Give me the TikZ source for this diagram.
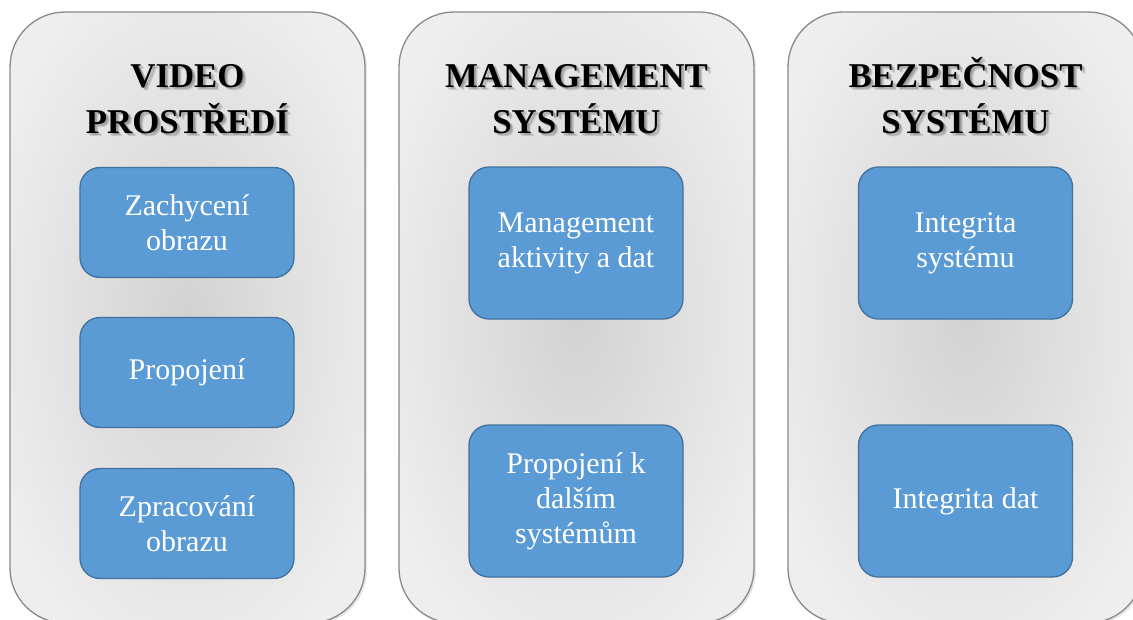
\documentclass[tikz,border=0pt]{standalone}
\usepackage{fontspec}
\setmainfont{Liberation Serif}
\definecolor{boxfill}{HTML}{5B9BD5}
\definecolor{boxline}{HTML}{41719C}
\definecolor{pin}{HTML}{D2D2D2}
\definecolor{pout}{HTML}{EEEEEE}
\definecolor{pline}{HTML}{8A8A8A}
\pgfdeclareradialshading{panelshade}{\pgfpoint{0bp}{0bp}}{color(0bp)=(pin); color(30bp)=(pout); color(50bp)=(pout)}
\tikzset{
  panel/.style={draw=pline, line width=1.3pt, rounded corners=55pt, shading=panelshade},
  pshadow/.style={fill=black, opacity=0.10, rounded corners=55pt},
  bluebox/.style={draw=boxline, line width=1.3pt, fill=boxfill, rounded corners=20pt,
    text=white, align=center, inner sep=0pt, minimum width=214pt,
    font=\fontsize{30}{35}\selectfont},
  title/.style={anchor=base, font=\bfseries\fontsize{34.8}{40}\selectfont, text=black},
  tshadow/.style={anchor=base, font=\bfseries\fontsize{34.8}{40}\selectfont, text=black, opacity=0.13},
}
\newcommand{\ttlline}[4]{%
  \node[tshadow] at (#2+1.5,#3+1.5) {#4};
  \node[tshadow] at (#2+2.5,#3+2.5) {#4};
  \node[tshadow] at (#2+3.5,#3+3) {#4};
  \node[title] (#1) at (#2,#3) {#4};}
\begin{document}
\begin{tikzpicture}[x=1pt,y=-1pt]
\useasboundingbox (0,0) rectangle (1133,619);
\fill[white] (0,0) rectangle (1133,619);
\clip (0,0) rectangle (1133,619);
% panels
\foreach \px in {10,399,788}{
  \fill[pshadow] (\px+2,14) rectangle (\px+357,625);
  \path[panel] (\px,12) rectangle (\px+355,623);
}
% titles
\ttlline{t1a}{187.5}{87}{VIDEO}
\ttlline{t1b}{187.5}{133}{PROSTŘEDÍ}
\ttlline{t2a}{576.5}{87}{MANAGEMENT}
\ttlline{t2b}{576.5}{133}{SYSTÉMU}
\ttlline{t3a}{965.5}{87}{BEZPEČNOST}
\ttlline{t3b}{965.5}{133}{SYSTÉMU}
% boxes panel 1
\node[bluebox, minimum height=110pt] (b11) at (187,222.5) {Zachycení\\obrazu};
\node[bluebox, minimum height=110pt] (b12) at (187,372.5) {Propojení};
\node[bluebox, minimum height=110pt] (b13) at (187,523.5) {Zpracování\\obrazu};
% boxes panel 2
\node[bluebox, minimum height=152pt] (b21) at (576,243) {Management\\aktivity a dat};
\node[bluebox, minimum height=152pt] (b22) at (576,501) {Propojení k\\dalším\\systémům};
% boxes panel 3
\node[bluebox, minimum height=152pt] (b31) at (965.5,243) {Integrita\\systému};
\node[bluebox, minimum height=152pt] (b32) at (965.5,501) {Integrita dat};
\end{tikzpicture}
\end{document}
